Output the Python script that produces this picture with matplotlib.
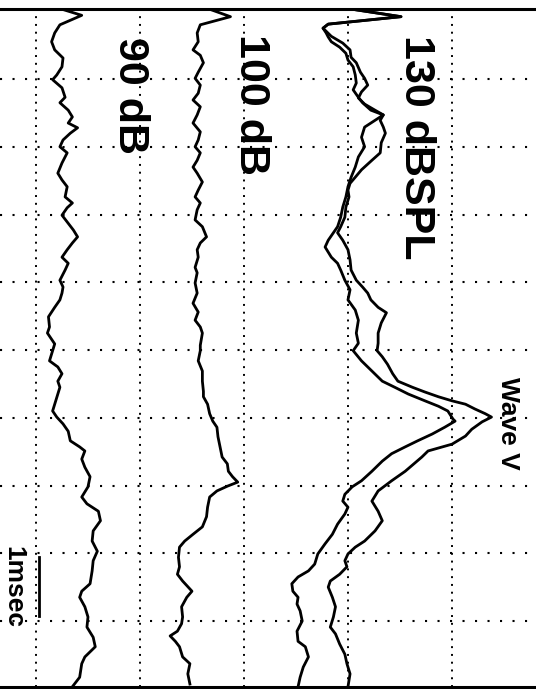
import numpy as np
import matplotlib.pyplot as plt

# sweep position in grid divisions (top -> bottom) and trace deflection in grid divisions
t_90 = [-0.03, 0.06, 0.20, 0.32, 0.45, 0.57, 0.69, 0.82, 0.94, 1.01, 1.13, 1.27, 1.35, 1.46,
        1.56, 1.65, 1.72, 1.80, 1.90, 2.00, 2.09, 2.24, 2.39, 2.49, 2.59, 2.74, 2.83, 2.90,
        3.01, 3.13, 3.23, 3.33, 3.42, 3.52, 3.63, 3.72, 3.82, 3.97, 4.07, 4.16, 4.26, 4.37,
        4.51, 4.66, 4.75, 4.91, 5.01, 5.16, 5.25, 5.35, 5.46, 5.55, 5.65, 5.80, 5.90, 5.99,
        6.09, 6.20, 6.34, 6.43, 6.49, 6.61, 6.73, 6.87, 7.02, 7.17, 7.27, 7.38, 7.52, 7.67,
        7.82, 7.97, 8.11, 8.26, 8.45, 8.56, 8.65, 8.79, 8.94, 9.09, 9.24, 9.38, 9.53, 9.63,
        9.83, 9.97]
a_90 = [0.25, 0.44, 0.23, 0.18, 0.15, 0.18, 0.26, 0.25, 0.20, 0.16, 0.25, 0.28, 0.23, 0.31,
        0.35, 0.31, 0.40, 0.33, 0.26, 0.23, 0.30, 0.25, 0.21, 0.25, 0.30, 0.28, 0.35, 0.30,
        0.25, 0.31, 0.36, 0.40, 0.35, 0.30, 0.25, 0.31, 0.28, 0.23, 0.26, 0.25, 0.23, 0.18,
        0.12, 0.13, 0.11, 0.18, 0.16, 0.13, 0.21, 0.25, 0.21, 0.23, 0.21, 0.18, 0.16, 0.20,
        0.26, 0.31, 0.33, 0.42, 0.47, 0.44, 0.47, 0.52, 0.50, 0.44, 0.49, 0.60, 0.62, 0.55,
        0.54, 0.59, 0.55, 0.54, 0.52, 0.44, 0.42, 0.47, 0.50, 0.49, 0.55, 0.57, 0.47, 0.44,
        0.42, 0.35]

t_100 = [-0.03, 0.08, 0.20, 0.32, 0.45, 0.57, 0.65, 0.76, 0.90, 0.99, 1.09, 1.21, 1.31, 1.41,
         1.53, 1.65, 1.78, 1.90, 2.00, 2.09, 2.20, 2.30, 2.39, 2.52, 2.64, 2.74, 2.83, 2.93,
         3.08, 3.18, 3.33, 3.42, 3.52, 3.63, 3.78, 3.86, 4.01, 4.16, 4.31, 4.44, 4.56, 4.66,
         4.75, 4.93, 5.01, 5.16, 5.31, 5.46, 5.61, 5.69, 5.80, 5.94, 6.05, 6.14, 6.28, 6.43,
         6.58, 6.68, 6.79, 6.87, 6.95, 7.01, 7.08, 7.17, 7.32, 7.46, 7.61, 7.72, 7.82, 7.91,
         8.06, 8.20, 8.31, 8.41, 8.56, 8.65, 8.79, 8.94, 9.04, 9.15, 9.22, 9.30, 9.38, 9.53,
         9.63, 9.78, 9.93]
a_100 = [1.67, 1.87, 1.58, 1.55, 1.56, 1.51, 1.58, 1.61, 1.56, 1.53, 1.58, 1.56, 1.51, 1.58,
         1.55, 1.51, 1.58, 1.56, 1.53, 1.58, 1.55, 1.51, 1.55, 1.60, 1.56, 1.53, 1.58, 1.55,
         1.53, 1.60, 1.64, 1.58, 1.55, 1.56, 1.53, 1.55, 1.53, 1.55, 1.51, 1.56, 1.53, 1.58,
         1.60, 1.58, 1.58, 1.56, 1.60, 1.60, 1.61, 1.61, 1.65, 1.67, 1.70, 1.74, 1.75, 1.77,
         1.79, 1.84, 1.85, 1.89, 1.94, 1.84, 1.74, 1.67, 1.65, 1.64, 1.60, 1.51, 1.43, 1.38,
         1.37, 1.38, 1.36, 1.41, 1.50, 1.45, 1.40, 1.41, 1.40, 1.36, 1.29, 1.34, 1.38, 1.41,
         1.48, 1.46, 1.48]

# 130 dB SPL, first run (lower wave V)
t_130a = [-0.03, 0.08, 0.19, 0.25, 0.32, 0.38, 0.45, 0.53, 0.62, 0.72, 0.82, 0.94, 1.06, 1.16,
          1.27, 1.35, 1.46, 1.53, 1.71, 1.86, 2.00, 2.15, 2.30, 2.45, 2.59, 2.74, 2.89, 3.04,
          3.18, 3.38, 3.48, 3.63, 3.72, 3.82, 3.97, 4.11, 4.26, 4.41, 4.56, 4.75, 4.90, 5.01,
          5.16, 5.31, 5.46, 5.55, 5.65, 5.75, 5.83, 5.90, 6.02, 6.05, 6.14, 6.24, 6.34, 6.43,
          6.53, 6.64, 6.79, 6.93, 7.02, 7.13, 7.23, 7.32, 7.42, 7.57, 7.72, 7.86, 8.01, 8.16,
          8.26, 8.35, 8.45, 8.56, 8.65, 8.75, 8.85, 9.00, 9.15, 9.30, 9.38, 9.53, 9.68, 9.83,
          9.97]
a_130a = [3.04, 3.51, 2.81, 2.76, 2.79, 2.81, 2.84, 2.92, 2.98, 3.00, 3.05, 3.07, 3.08, 3.05,
          3.10, 3.14, 3.22, 3.34, 3.16, 3.13, 3.16, 3.10, 3.07, 3.03, 3.00, 2.98, 2.95, 2.93,
          2.90, 2.81, 2.78, 2.84, 2.90, 2.93, 2.97, 3.02, 3.00, 3.07, 3.10, 3.08, 3.10, 3.05,
          3.13, 3.23, 3.33, 3.45, 3.58, 3.74, 3.87, 3.96, 4.01, 4.03, 3.93, 3.81, 3.67, 3.55,
          3.42, 3.33, 3.23, 3.13, 3.04, 2.97, 2.95, 3.00, 2.97, 2.90, 2.85, 2.78, 2.71, 2.68,
          2.62, 2.52, 2.46, 2.47, 2.52, 2.51, 2.54, 2.56, 2.51, 2.52, 2.59, 2.62, 2.57, 2.54,
          2.52]

# 130 dB SPL, second run (higher wave V)
t_130b = [-0.03, 0.08, 0.19, 0.25, 0.37, 0.47, 0.57, 0.68, 0.76, 0.90, 0.99, 1.09, 1.19, 1.28,
          1.37, 1.46, 1.53, 1.61, 1.71, 1.80, 1.94, 2.09, 2.20, 2.34, 2.45, 2.54, 2.64, 2.74,
          2.89, 3.04, 3.18, 3.27, 3.38, 3.52, 3.67, 3.82, 3.97, 4.07, 4.16, 4.26, 4.37, 4.45,
          4.60, 4.75, 4.90, 5.01, 5.10, 5.21, 5.35, 5.46, 5.55, 5.62, 5.69, 5.75, 5.80, 5.87,
          5.94, 5.99, 6.06, 6.17, 6.27, 6.39, 6.49, 6.58, 6.79, 6.93, 7.08, 7.23, 7.38, 7.52,
          7.67, 7.82, 7.91, 8.01, 8.11, 8.20, 8.31, 8.41, 8.50, 8.65, 8.79, 8.94, 9.09, 9.19,
          9.34, 9.49, 9.63, 9.78, 9.97]
a_130b = [3.04, 3.51, 2.81, 2.76, 2.84, 2.95, 3.02, 3.03, 3.08, 3.12, 3.16, 3.19, 3.13, 3.10,
          3.16, 3.26, 3.34, 3.31, 3.34, 3.36, 3.32, 3.31, 3.23, 3.13, 3.07, 3.02, 3.00, 3.01,
          2.98, 2.97, 2.93, 2.90, 2.95, 3.00, 3.02, 3.03, 3.08, 3.14, 3.19, 3.22, 3.29, 3.37,
          3.32, 3.29, 3.29, 3.28, 3.33, 3.38, 3.43, 3.48, 3.62, 3.74, 3.87, 4.00, 4.13, 4.22,
          4.32, 4.38, 4.29, 4.19, 4.13, 4.00, 3.77, 3.71, 3.55, 3.42, 3.29, 3.23, 3.29, 3.33,
          3.26, 3.16, 3.07, 3.00, 2.97, 2.99, 2.92, 2.83, 2.81, 2.85, 2.88, 2.86, 2.83, 2.88,
          2.92, 2.97, 2.99, 3.02, 3.00]

labels = ["90 dB", "100 dB", "130 dBSPL"]
label_pos = [(0.90, 1.25), (2.07, 1.37), (3.65, 2.00)]
wave_label = "Wave V"
wave_label_pos = (4.54, 6.09)

MS_PER_DIV = 1.16          # sweep time per grid division
scale_bar_ms = 1.0
scale_bar_start = 8.06     # grid divisions

plt.rcParams['font.family'] = ['Liberation Sans', 'DejaVu Sans']

fig = plt.figure(figsize=(5.36, 6.89), dpi=100)
ax = fig.add_axes([0, 0.0029, 1, 0.984])

for t, a in [(t_90, a_90), (t_100, a_100), (t_130a, a_130a), (t_130b, a_130b)]:
    ax.plot(a, t, color='black', lw=2.0, solid_joinstyle='round')

# dotted grid
for k in range(1, 10):
    ax.axhline(k, color='black', lw=1.5, ls=(0, (1.0, 5.0)), zorder=0)
for k in range(0, 5):
    ax.axvline(k, color='black', lw=1.4, ls=(0, (1.0, 3.0)), zorder=0)

for text, (x, y) in zip(labels, label_pos):
    ax.text(x, y, text, rotation=-90, fontsize=31, fontweight='bold',
            ha='center', va='center')
ax.text(*wave_label_pos, wave_label, rotation=-90, fontsize=19, fontweight='bold',
        ha='center', va='center')

# 1 msec scale bar
bar_len = scale_bar_ms / MS_PER_DIV
ax.plot([0.03, 0.03], [scale_bar_start, scale_bar_start + bar_len], color='black', lw=2.0)
ax.text(-0.22, scale_bar_start + bar_len / 2, "1msec", rotation=-90, fontsize=19,
        fontweight='bold', ha='center', va='center')

ax.set_xlim(-0.346, 4.808)
ax.set_ylim(9.974, -0.033)
ax.set_xticks([])
ax.set_yticks([])
for side in ['left', 'right']:
    ax.spines[side].set_visible(False)
for side in ['top', 'bottom']:
    ax.spines[side].set_linewidth(2.2)

fig.savefig("out.png", dpi=100)
